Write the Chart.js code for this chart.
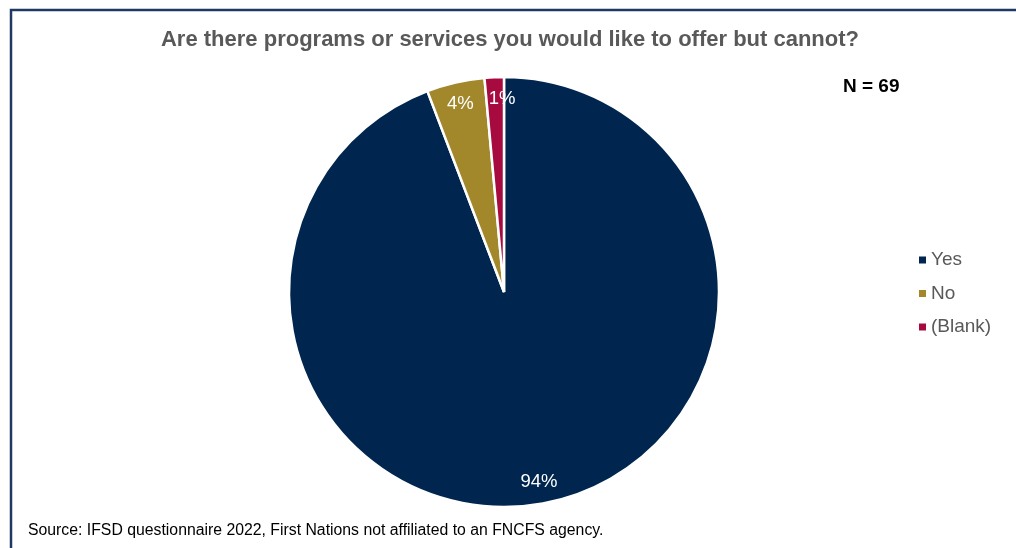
<!DOCTYPE html>
<html>
<head>
<meta charset="utf-8">
<style>
  html, body { margin: 0; padding: 0; background: #ffffff; }
  #wrap { position: relative; width: 1016px; height: 548px; overflow: hidden; }
  canvas { position: absolute; left: 0; top: 0; }
</style>
<script src="https://cdn.jsdelivr.net/npm/chart.js@4/dist/chart.umd.min.js"></script>
</head>
<body>
<div id="wrap"><canvas id="pie" width="1016" height="548"></canvas></div>
<script>
// Survey responses (counts out of N = 69)
const categories = ['Yes', 'No', '(Blank)'];
const responses = [65, 3, 1];
const sliceColors = ['#00264f', '#a2872b', '#a70a3e'];
const titleText = 'Are there programs or services you would like to offer but cannot?';
const sampleText = 'N = 69';
const sourceText = 'Source: IFSD questionnaire 2022, First Nations not affiliated to an FNCFS agency.';

const FONT = '"Liberation Sans", Arial, sans-serif';

// Frame, title, sample size and source note
const framePlugin = {
  id: 'frame',
  beforeDraw(chart) {
    const ctx = chart.ctx;
    ctx.save();
    ctx.fillStyle = '#ffffff';
    ctx.fillRect(0, 0, chart.width, chart.height);
    ctx.strokeStyle = '#1f3864';
    ctx.lineWidth = 2.5;
    ctx.beginPath();
    ctx.moveTo(1016, 10);
    ctx.lineTo(11, 10);
    ctx.lineTo(11, 548);
    ctx.stroke();

    ctx.fillStyle = '#595959';
    ctx.font = 'bold 22px ' + FONT;
    ctx.textAlign = 'center';
    ctx.textBaseline = 'middle';
    ctx.fillText(titleText, 510, 40);

    ctx.fillStyle = '#000000';
    ctx.font = 'bold 19px ' + FONT;
    ctx.textAlign = 'left';
    ctx.fillText(sampleText, 843, 87);

    ctx.font = '15.8px ' + FONT;
    ctx.fillText(sourceText, 28, 531);
    ctx.restore();
  }
};

// Percent labels inside each slice (the thinnest slice's label sits a bit to the right)
const labelPlugin = {
  id: 'sliceLabels',
  afterDatasetsDraw(chart) {
    const ctx = chart.ctx;
    const meta = chart.getDatasetMeta(0);
    const data = chart.data.datasets[0].data;
    const total = data.reduce((a, b) => a + b, 0);
    ctx.save();
    ctx.fillStyle = '#ffffff';
    ctx.font = '18.5px ' + FONT;
    ctx.textAlign = 'center';
    ctx.textBaseline = 'middle';
    meta.data.forEach((arc, i) => {
      const p = arc.getProps(['x', 'y', 'startAngle', 'endAngle', 'outerRadius'], true);
      const mid = (p.startAngle + p.endAngle) / 2;
      const r = p.outerRadius * 0.9;
      const share = data[i] / total;
      const nudge = share < 0.02 ? 7 : 0;
      const pct = Math.round(share * 100) + '%';
      ctx.fillText(pct, p.x + Math.cos(mid) * r + nudge, p.y + Math.sin(mid) * r);
    });
    ctx.restore();
  }
};

// Legend on the right
const legendPlugin = {
  id: 'sideLegend',
  afterDraw(chart) {
    const ctx = chart.ctx;
    const ds = chart.data.datasets[0];
    ctx.save();
    ctx.font = '19px ' + FONT;
    ctx.textAlign = 'left';
    ctx.textBaseline = 'middle';
    chart.data.labels.forEach((lab, i) => {
      const y = 260 + i * 33.5;
      ctx.fillStyle = ds.backgroundColor[i];
      ctx.fillRect(919, y - 3.5, 7, 7);
      ctx.fillStyle = '#595959';
      ctx.fillText(lab, 931, y);
    });
    ctx.restore();
  }
};

new Chart(document.getElementById('pie'), {
  type: 'pie',
  data: {
    labels: categories,
    datasets: [{
      data: responses,
      backgroundColor: sliceColors,
      borderColor: '#ffffff',
      borderWidth: 2.5
    }]
  },
  options: {
    responsive: false,
    animation: false,
    radius: 215,
    layout: { padding: { top: 77, bottom: 41, left: 289, right: 297 } },
    plugins: {
      legend: { display: false },
      title: { display: false },
      tooltip: { enabled: false }
    }
  },
  plugins: [framePlugin, labelPlugin, legendPlugin]
});
</script>
</body>
</html>
